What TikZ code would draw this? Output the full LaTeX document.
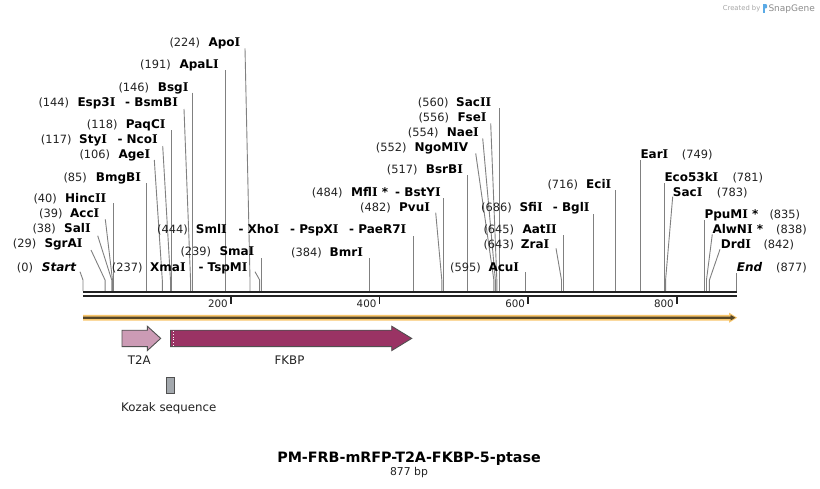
\documentclass[tikz,border=0pt]{standalone}
\usepackage{fontspec}
\setmainfont{DejaVu Sans}
\newfontfamily\serifI{DejaVu Serif}
\newcommand\sI{{\serifI\bfseries I}}
\definecolor{numcol}{RGB}{34,34,34}
\definecolor{conncol}{RGB}{128,128,128}
\definecolor{bbcol}{RGB}{34,34,34}
\definecolor{orng}{RGB}{248,198,108}
\definecolor{orngdark}{RGB}{85,70,40}
\definecolor{t2acol}{RGB}{204,155,181}
\definecolor{fkbpcol}{RGB}{154,51,100}
\definecolor{kozcol}{RGB}{163,168,173}
\definecolor{featborder}{RGB}{80,80,80}
\definecolor{snapblue}{RGB}{90,170,230}
\newcommand\nfnt{\fontsize{11.4}{13}\selectfont}
\newcommand\efnt{\fontsize{12}{14}\selectfont\bfseries}
\newcommand\leftlab[6]{%
  \node[numlab] (n#1) at (#2,{#6+4.3}) {(#3)};
  \node[enzlab] (m#1) at (#4,{#6+4.3}) {#5};}
\newcommand\rightlab[6]{%
  \node[enzlab] (m#1) at (#2,{#6+4.3}) {#3};
  \node[numlab] (n#1) at (#4,{#6+4.3}) {(#5)};}
\newcommand\cutline[4]{%
  \coordinate (a#1) at (#2,#3);
  \coordinate (k#1) at ({83.5+0.7434*#4},280);
  \coordinate (b#1) at ({83.5+0.7434*#4},291);
  \draw[conn] (a#1) -- (k#1) -- (b#1);}
\newcommand\cutvert[3]{%
  \coordinate (a#1) at ({83.5+0.7434*#3},#2);
  \coordinate (b#1) at ({83.5+0.7434*#3},291);
  \draw[conn] (a#1) -- (b#1);}
\begin{document}
\begin{tikzpicture}[x=1pt,y=-1pt,
  numlab/.style={font=\nfnt,text=numcol,anchor=base west,inner sep=0pt},
  enzlab/.style={font=\efnt,text=black,anchor=base west,inner sep=0pt},
  conn/.style={draw=conncol,line width=0.9pt},
  bbline/.style={draw=bbcol,line width=2.3pt},
  tickmark/.style={draw=bbcol,line width=1.8pt},
  ticklab/.style={font=\fontsize{10.3}{12}\selectfont,text=numcol,anchor=base east,inner sep=0pt},
  featlab/.style={font=\fontsize{11.8}{14}\selectfont,text=numcol,anchor=base,inner sep=0pt},
  feat/.style={draw=featborder,line width=0.9pt}]
\useasboundingbox (0,0) rectangle (820,488);
\fill[white] (0,0) rectangle (820,488);

% ---- SnapGene credit
\node[font=\fontsize{6.8}{8}\selectfont,text=black!35,anchor=base west,inner sep=0pt] (credit) at (722.7,10.3) {Created by};
\fill[snapblue] (762.7,4.2) rectangle (764.8,12.7);
\fill[snapblue] (764.8,4.2) -- (766,4.2) .. controls (767.6,4.2) and (767.6,8.4) .. (766,8.4) -- (764.8,8.4) -- cycle;
\node[font=\fontsize{9}{11}\selectfont,text=black!45,anchor=base west,inner sep=0pt] (snapgene) at (768.3,11.2) {SnapGene};

% ---- cut-site connectors
\cutline{apoi}{245}{48.3}{224}
\cutvert{apali}{70}{191}
\cutvert{bsgi}{92.7}{146}
\cutline{esp}{184}{109}{144}
\cutvert{paqci}{130}{118}
\cutline{styi}{162.7}{146}{117}
\cutline{agei}{154.3}{160}{106}
\cutvert{bmgbi}{183.3}{85}
\cutvert{hincii}{203.3}{40}
\cutline{acci}{105.3}{219.3}{39}
\cutline{sali}{97.7}{235.7}{38}
\cutline{sgrai}{91}{250}{29}
\coordinate (astart) at (80,271.7);
\coordinate (kstart) at (83,280);
\coordinate (bstart) at (83,291);
\draw[conn] (astart) -- (kstart) -- (bstart);
\cutline{xmai}{255}{271.7}{237}
\cutvert{smai}{258.3}{239}
\cutvert{smli}{236}{444}
\cutvert{bmri}{258.3}{384}
\cutvert{mfli}{198.3}{484}
\cutline{pvui}{435.7}{212.7}{482}
\cutvert{bsrbi}{175}{517}
\cutline{ngo}{475.7}{153.3}{552}
\cutline{naei}{482.7}{138.3}{554}
\cutline{fsei}{490.7}{123.3}{556}
\cutvert{sacii}{108.3}{560}
\cutvert{sfii}{214}{686}
\cutvert{aatii}{235}{645}
\cutline{zrai}{556}{248.3}{643}
\cutvert{acui}{272.3}{595}
\cutvert{ecii}{190}{716}
\cutvert{eari}{160}{749}
\cutvert{eco}{183.3}{781}
\cutline{saci}{672.7}{196.7}{783}
\cutvert{ppumi}{220}{835}
\cutline{alwni}{712.3}{234.3}{838}
\cutline{drdi}{720}{249.3}{842}
\coordinate (aend) at (736.3,273.3);
\coordinate (bend) at (736.3,291);
\draw[conn] (aend) -- (bend);

% ---- enzyme labels (left type)
\leftlab{apoi}{169.3}{224}{208.3}{Apo\sI}{42.3}
\leftlab{apali}{140}{191}{179.3}{ApaL\sI}{63.8}
\leftlab{bsgi}{118.3}{146}{157.7}{Bsg\sI}{87}
\leftlab{esp}{38.3}{144}{77.3}{Esp3\sI}{101.7}
\node[enzlab] (mbsmbi) at (125,106) {- BsmB\sI};
\leftlab{paqci}{86.7}{118}{125.7}{PaqC\sI}{124}
\leftlab{styi}{40.7}{117}{79}{Sty\sI}{139}
\node[enzlab] (mncoi) at (117.3,143.3) {- Nco\sI};
\leftlab{agei}{79.3}{106}{118.3}{Age\sI}{154.3}
\leftlab{bmgbi}{63.3}{85}{95.7}{BmgB\sI}{176.7}
\leftlab{hincii}{33.3}{40}{65}{Hinc\sI\sI}{198.5}
\leftlab{acci}{39}{39}{70}{Acc\sI}{213}
\leftlab{sali}{32.3}{38}{64}{Sal\sI}{228}
\leftlab{sgrai}{12.7}{29}{44.3}{SgrA\sI}{243}
\node[numlab] (nstart) at (16.7,271.3) {(0)};
\node[enzlab,font=\efnt\itshape] (mstart) at (41.7,271.3) {Start};
\leftlab{xmai}{111.7}{237}{150}{Xma\sI}{267}
\node[enzlab] (mtspmi) at (198.3,271.3) {- TspM\sI};
\leftlab{smai}{180.3}{239}{219.3}{Sma\sI}{251.5}
\leftlab{smli}{157}{444}{195.7}{Sml\sI}{229}
\node[enzlab] (mxhoi) at (238.3,233.3) {- Xho\sI};
\node[enzlab] (mpspxi) at (290,233.3) {- PspX\sI};
\node[enzlab] (mpaer) at (349,233.3) {- PaeR7\sI};
\leftlab{bmri}{291}{384}{329.5}{Bmr\sI}{252}
\leftlab{mfli}{311.7}{484}{351}{Mfl\sI\ *}{191.7}
\node[enzlab] (mbstyi) at (395,196) {- BstY\sI};
\leftlab{pvui}{360}{482}{399}{Pvu\sI}{206.7}
\leftlab{bsrbi}{386.7}{517}{425.7}{BsrB\sI}{169}
\leftlab{ngo}{375.7}{552}{414.3}{NgoM\sI V}{147.3}
\leftlab{naei}{407.7}{554}{446.7}{Nae\sI}{132.3}
\leftlab{fsei}{418.3}{556}{457.3}{Fse\sI}{116.7}
\leftlab{sacii}{417.7}{560}{456}{Sac\sI\sI}{102.3}
\leftlab{sfii}{481}{686}{519.3}{Sfi\sI}{207}
\node[enzlab] (mbgli) at (552.7,211.3) {- Bgl\sI};
\leftlab{aatii}{483.3}{645}{522.3}{Aat\sI\sI}{229}
\leftlab{zrai}{483.3}{643}{520.7}{Zra\sI}{244}
\leftlab{acui}{450}{595}{488.3}{Acu\sI}{267}
\leftlab{ecii}{547.3}{716}{586}{Eci\sI}{184}

% ---- enzyme labels (right type)
\rightlab{eari}{640.3}{Ear\sI}{681.7}{749}{154}
\rightlab{eco}{664.3}{Eco53k\sI}{732.3}{781}{176.7}
\rightlab{saci}{672.7}{Sac\sI}{716.7}{783}{192.3}
\rightlab{ppumi}{704.3}{PpuM\sI\ *}{769.3}{835}{214}
\rightlab{alwni}{712.3}{AlwN\sI\ *}{776}{838}{229}
\rightlab{drdi}{720.7}{Drd\sI}{763.3}{842}{244}
\node[enzlab,font=\efnt\itshape] (mend) at (736.7,271) {End};
\node[numlab] (nend) at (776,271) {(877)};

% ---- backbone
\coordinate (bbl1) at (83,292.2); \coordinate (bbr1) at (736.7,292.2);
\coordinate (bbl2) at (83,296.3); \coordinate (bbr2) at (736.7,296.3);
\draw[bbline] (bbl1) -- (bbr1);
\draw[bbline] (bbl2) -- (bbr2);
\foreach \p in {200,400,600,800} {
  \coordinate (t\p) at ({82.2+0.7434*\p},297.3);
  \draw[tickmark] (t\p) -- ++(0,6.7);
  \node[ticklab] (tl\p) at ({79.2+0.7434*\p},307.8) {\p};
}

% ---- ORF line
\fill[orng] (83,314.8) -- (729,314.8) -- (729,312.6) -- (737.2,317.7) -- (729,322.8) -- (729,320.6) -- (83,320.6) -- cycle;
\fill[orngdark] (83,316.6) -- (730.6,316.6) -- (730.6,314.9) -- (735.4,317.7) -- (730.6,320.5) -- (730.6,318.8) -- (83,318.8) -- cycle;

% ---- features
\draw[feat,fill=t2acol] (122,330.2) -- (147.3,330.2) -- (147.3,326.2) -- (160.7,338.4) -- (147.3,350.6) -- (147.3,346.6) -- (122,346.6) -- cycle;
\node[featlab] (t2alab) at (139.2,364.4) {T2A};
\draw[feat,fill=fkbpcol] (170.5,330.2) -- (391.7,330.2) -- (391.7,326.2) -- (411.7,338.4) -- (391.7,350.6) -- (391.7,346.6) -- (170.5,346.6) -- cycle;
\draw[white,line width=0.8pt,dotted] (173.8,330.9) -- (173.8,345.9);
\node[featlab] (fkbplab) at (289.5,364.4) {FKBP};
\draw[feat,fill=kozcol] (166.3,377.3) rectangle (174.7,393.3);
\node[featlab] (kozlab) at (168.8,411) {Kozak sequence};

% ---- title
\node[font=\fontsize{14.3}{17}\selectfont\bfseries,anchor=base,inner sep=0pt] (title) at (409,462.5) {PM-FRB-mRFP-T2A-FKBP-5-ptase};
\node[font=\fontsize{10.8}{13}\selectfont,text=numcol,anchor=base,inner sep=0pt] (len) at (409,475.5) {877 bp};
\end{tikzpicture}
\end{document}
